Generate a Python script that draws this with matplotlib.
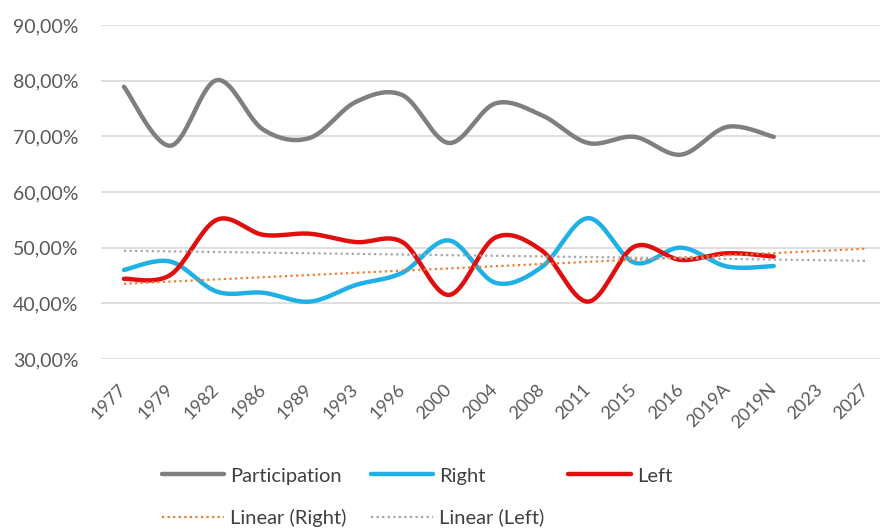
import numpy as np
import matplotlib
matplotlib.use("Agg")
import matplotlib.pyplot as plt
from matplotlib.ticker import FuncFormatter

# data (fractions)
years = ['1977', '1979', '1982', '1986', '1989', '1993', '1996', '2000',
         '2004', '2008', '2011', '2015', '2016', '2019A', '2019N', '2023', '2027']
participation = [0.789, 0.683, 0.801, 0.712, 0.697, 0.762, 0.774, 0.688,
                 0.759, 0.738, 0.688, 0.699, 0.667, 0.717, 0.699]
right = [0.460, 0.475, 0.421, 0.419, 0.403, 0.433, 0.455, 0.513,
         0.437, 0.465, 0.553, 0.473, 0.500, 0.466, 0.467]
left = [0.444, 0.451, 0.550, 0.523, 0.525, 0.510, 0.510, 0.415,
        0.518, 0.495, 0.403, 0.502, 0.478, 0.490, 0.484]

plt.rcParams['font.family'] = ['Lato', 'DejaVu Sans']


def smooth(y, n=20):
    # Catmull-Rom style smoothing, like Excel's "smoothed line"
    y = np.asarray(y, dtype=float)
    x = np.arange(len(y), dtype=float)
    px = np.concatenate([[x[0]], x, [x[-1]]])
    py = np.concatenate([[y[0]], y, [y[-1]]])
    xs, ys = [], []
    for i in range(1, len(px) - 2):
        t = np.linspace(0, 1, n, endpoint=False)
        for arr, out in ((px, xs), (py, ys)):
            p0, p1, p2, p3 = arr[i - 1], arr[i], arr[i + 1], arr[i + 2]
            out.extend(0.5 * ((2 * p1) + (-p0 + p2) * t
                              + (2 * p0 - 5 * p1 + 4 * p2 - p3) * t ** 2
                              + (-p0 + 3 * p1 - 3 * p2 + p3) * t ** 3))
    xs.append(x[-1])
    ys.append(y[-1])
    return np.array(xs), np.array(ys)


fig = plt.figure(figsize=(8.8, 5.29), dpi=100)
ax = fig.add_axes([0.1145, 0.3214, 0.8966, 0.6314])

grey = '#7f7f7f'
blue = '#1fb0e6'
red = '#e00f0f'

h_p, = ax.plot(*smooth(participation), color=grey, lw=3.2, solid_capstyle='round', label='Participation')
h_r, = ax.plot(*smooth(right), color=blue, lw=3.2, solid_capstyle='round', label='Right')
h_l, = ax.plot(*smooth(left), color=red, lw=3.2, solid_capstyle='round', label='Left')

# linear trendlines, forecast 2 periods forward
xi = np.arange(len(right))
xt = np.arange(len(years))
cr = np.polyfit(xi, right, 1)
cl = np.polyfit(xi, left, 1)
h_tr, = ax.plot(xt, np.polyval(cr, xt), color='#ed7d31', lw=1.6, ls=(0, (1, 1.5)), label='Linear (Right)')
h_tl, = ax.plot(xt, np.polyval(cl, xt), color='#a5a5a5', lw=1.6, ls=(0, (1, 1.5)), label='Linear (Left)')

ax.set_ylim(0.3, 0.9)
ax.set_xlim(-0.5, len(years) - 0.5)
ax.set_yticks(np.arange(0.3, 0.91, 0.1))
ax.yaxis.set_major_formatter(FuncFormatter(lambda v, p: f'{v*100:.2f}%'.replace('.', ',')))
ax.set_xticks(xt)
ax.set_xticklabels(years, rotation=45, ha='right', va='center', rotation_mode='anchor')
ax.tick_params(length=0, colors='#595959')
ax.tick_params(axis='y', labelsize=14, pad=16)
ax.tick_params(axis='x', labelsize=13, pad=20)
ax.grid(axis='y', color='#d9d9d9', lw=1.2)
ax.set_axisbelow(True)
for s in ax.spines.values():
    s.set_visible(False)

fig.legend(handles=[h_p, h_tr, h_r, h_tl, h_l], ncol=3, loc='lower left',
           bbox_to_anchor=(0.163, -0.03), frameon=False, fontsize=14.5,
           labelcolor='#404040', handlelength=3.1, handletextpad=0.3,
           columnspacing=1.2, labelspacing=1.2)

plt.savefig('out.png', dpi=100)
